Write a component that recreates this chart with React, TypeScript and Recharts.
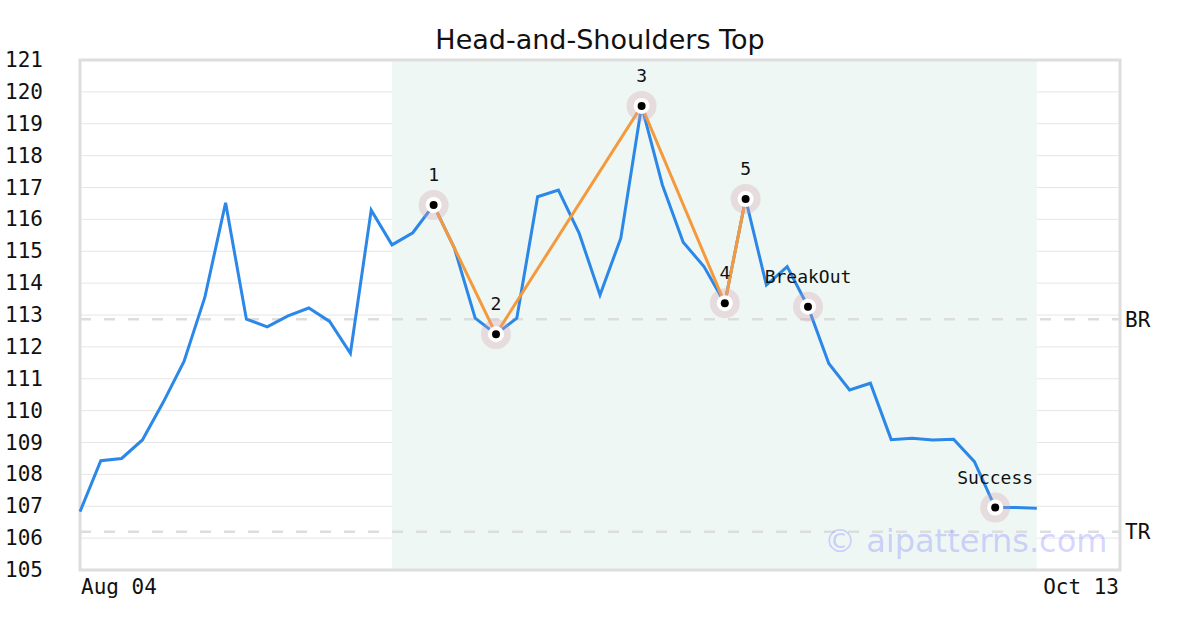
import React from 'react';
import {
  ComposedChart, Line, XAxis, YAxis, CartesianGrid, ReferenceArea, ReferenceLine, Scatter,
} from 'recharts';

// daily closes, Aug 04 .. (index = trading day)
const closes = [
  106.83, 108.43, 108.5, 109.08, 110.26, 111.54, 113.55, 116.52, 112.87, 112.63,
  112.97, 113.22, 112.8, 111.8, 116.29, 115.2, 115.58, 116.45, 115.1, 112.9,
  112.4, 112.9, 116.71, 116.92, 115.56, 113.63, 115.41, 119.56, 117.08, 115.28,
  114.52, 113.37, 116.64, 113.94, 114.52, 113.26, 111.48, 110.65, 110.86, 109.09,
  109.13, 109.08, 109.1, 108.4, 106.96, 106.96, 106.94,
];
const lastIndex = 50;
const xTickLabels = ['Aug 04', 'Oct 13'];
const yTicks = [105, 106, 107, 108, 109, 110, 111, 112, 113, 114, 115, 116, 117, 118, 119, 120, 121];

const patternIdx = [17, 20, 27, 31, 32];
const patternLabels = ['1', '2', '3', '4', '5'];
const eventIdx = [35, 44];
const eventLabels = ['BreakOut', 'Success'];
const zoneStart = 15;
const zoneEnd = 46;
const breakoutLevel = 112.87;
const targetLevel = 106.2;

const MONO = '"DejaVu Sans Mono", monospace';

const chartData = closes.map((c, i) => ({
  idx: i,
  close: c,
  pattern: patternIdx.includes(i) ? c : null,
}));

const markers = [
  ...patternIdx.map((i, k) => ({ idx: i, close: closes[i], label: patternLabels[k] })),
  ...eventIdx.map((i, k) => ({ idx: i, close: closes[i], label: eventLabels[k] })),
];

const Marker = (props: any) => {
  const { cx, cy, payload } = props;
  if (typeof cx !== 'number' || typeof cy !== 'number') return null;
  return (
    <g>
      <circle cx={cx} cy={cy} r={15} fill="#d4a0ae" fillOpacity={0.3} />
      <circle cx={cx} cy={cy} r={8} fill="#fff" />
      <circle cx={cx} cy={cy} r={4} fill="#000" />
      <text x={cx} y={cy - 24} textAnchor="middle" fontFamily={MONO} fontSize={18} fill="#111">
        {payload.label}
      </text>
    </g>
  );
};

const YTick = (props: any) => {
  const { y, payload } = props;
  return (
    <text x={5} y={y} dy={7} textAnchor="start" fontFamily={MONO} fontSize={21} fill="#111">
      {payload.value}
    </text>
  );
};

const XTick = (props: any) => {
  const { x, y, payload } = props;
  const first = payload.value === 0;
  return (
    <text x={first ? x + 1 : x - 1} y={y + 16} textAnchor={first ? 'start' : 'end'} fontFamily={MONO} fontSize={21} fill="#111">
      {first ? xTickLabels[0] : xTickLabels[1]}
    </text>
  );
};

export default function App() {
  return (
    <div style={{ position: 'fixed', left: 0, top: 0, width: 1200, height: 630, background: '#fff' }}>
      <div style={{
        position: 'absolute', top: 21, left: 0, width: 1200, textAlign: 'center',
        fontFamily: '"DejaVu Sans", sans-serif', fontSize: 27, color: '#111', lineHeight: '38px',
      }}>
        Head-and-Shoulders Top
      </div>
      <ComposedChart
        width={1200}
        height={630}
        data={chartData}
        margin={{ top: 60, right: 80, bottom: 30, left: 0 }}
      >
        <ReferenceArea x1={zoneStart} x2={zoneEnd} y1={105} y2={121} fill="#eef7f3" fillOpacity={1} stroke="none" />
        <CartesianGrid vertical={false} stroke="#e6e6e6" strokeWidth={1} />
        <XAxis
          dataKey="idx"
          type="number"
          domain={[0, lastIndex]}
          ticks={[0, lastIndex]}
          tick={<XTick />}
          tickLine={false}
          axisLine={false}
          height={30}
        />
        <YAxis
          type="number"
          domain={[105, 121]}
          ticks={yTicks}
          width={80}
          tick={<YTick />}
          tickLine={false}
          axisLine={false}
          interval={0}
        />
        <ReferenceLine
          y={breakoutLevel}
          stroke="#dddddd"
          strokeWidth={2.5}
          strokeDasharray="11 13"
          label={{ value: 'BR', position: 'right', fill: '#111', fontFamily: MONO, fontSize: 21, offset: 5 }}
        />
        <ReferenceLine
          y={targetLevel}
          stroke="#dddddd"
          strokeWidth={2.5}
          strokeDasharray="11 13"
          label={{ value: 'TR', position: 'right', fill: '#111', fontFamily: MONO, fontSize: 21, offset: 5 }}
        />
        <ReferenceArea x1={0} x2={lastIndex} y1={105} y2={121} fill="none" stroke="#dddddd" strokeWidth={3} />
        <Line
          type="linear"
          dataKey="close"
          stroke="#2b87e8"
          strokeWidth={3}
          dot={false}
          activeDot={false}
          isAnimationActive={false}
        />
        <Line
          type="linear"
          dataKey="pattern"
          stroke="#f59a3c"
          strokeWidth={3}
          dot={false}
          activeDot={false}
          connectNulls
          isAnimationActive={false}
        />
        <Scatter data={markers} dataKey="close" shape={<Marker />} isAnimationActive={false} />
      </ComposedChart>
      <div style={{
        position: 'absolute', left: 824, top: 522, fontFamily: '"DejaVu Sans", sans-serif',
        fontSize: 32, color: 'rgba(110,110,255,0.3)', whiteSpace: 'nowrap',
      }}>
        © aipatterns.com
      </div>
    </div>
  );
}
